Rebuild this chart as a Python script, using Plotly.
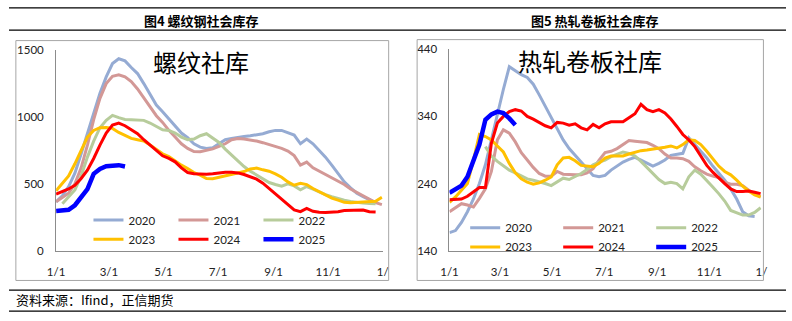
import plotly.graph_objects as go

# ---------------- data ----------------
days = list(range(0, 365, 7))  # weekly day offsets from Jan 1
N = None

rebar_2020 = [366, 410, 480, 580, 725, 880, 1030, 1177, 1300, 1400, 1436, 1420, 1370, 1325, 1250, 1170, 1090, 1040,
              985, 935, 880, 845, 800, 775, 765, 770, 800, 830, 840, 850, 855, 860, 868, 875, 890, 900, 900, 885,
              865, 800, 835, 800, 750, 700, 640, 580, 515, 470, 430, 405, 380, 360, N]
rebar_2021 = [366, 395, 430, 500, 620, 790, 980, 1140, 1250, 1305, 1316, 1300, 1265, 1210, 1145, 1080, 1010, 960,
              900, 850, 800, 765, 742, 740, 750, 762, 780, 800, 830, 840, 836, 830, 820, 808, 795, 782, 765, 745,
              711, 640, 663, 620, 595, 570, 545, 520, 495, 462, 435, 410, 385, 360, 345]
rebar_2022 = [N, 352, 400, 455, 560, 700, 820, 920, 975, 1012, 995, 982, 980, 980, 975, 955, 930, 905,
              900, 880, 850, 830, 835, 860, 875, 845, 810, 760, 715, 670, 630, 595, 565, 535, 510, 495, 483, 500,
              485, 455, 480, 460, 437, 420, 405, 390, 378, 368, 360, 356, 354, 352, N]
rebar_2023 = [448, 500, 560, 650, 750, 850, 900, 920, 922, 915, 885, 860, 840, 830, 820, 790, 760, 725,
              705, 670, 640, 615, 585, 565, 540, 538, 548, 560, 568, 580, 592, 612, 618, 605, 595, 575, 550, 515,
              490, 505, 495, 465, 440, 415, 393, 378, 362, 358, 360, 363, 365, 370, 400]
rebar_2024 = [423, 440, 462, 490, 540, 603, 690, 790, 880, 940, 955, 935, 905, 875, 830, 790, 745, 710,
              690, 665, 620, 585, 575, 572, 572, 575, 582, 586, 586, 582, 570, 555, 535, 505, 465, 420, 380, 345,
              305, 292, 316, 295, 287, 285, 287, 292, 300, 302, 308, 305, 292, 290, N]
rebar_2025 = [297, 298, 306, 340, 400, 460, 575, 612, 632, 640, 640, 630]

hrc_2020 = [167, 170, 182, 198, 217, 240, 268, 305, 345, 380, 414, 408, 402, 398, 388, 372, 355, 338,
            320, 305, 292, 282, 272, 262, 252, 250, 252, 260, 266, 272, 276, 279, 275, 270, 266, 270, 275, 282,
            284, 285, 308, 298, 289, 278, 266, 256, 245, 232, 217, 198, 192, 191, N]
hrc_2021 = [198, 204, 210, 208, 205, 218, 232, 258, 305, 320, 315, 302, 286, 275, 264, 255, 251, 251,
            258, 254, 253, 253, 253, 256, 262, 275, 286, 288, 292, 298, 304, 303, 302, 301, 297, 292, 284, 278,
            278, 277, 273, 265, 259, 254, 251, 249, 242, 239, 239, 237, 230, 225, 220]
hrc_2022 = [N, N, N, N, N, N, 295, 281, 273, 266, 260, 256, 252, 247, 245, 243, 240, 237,
            243, 248, 246, 250, 255, 261, 268, 272, 275, 280, 284, 287, 285, 281, 273, 264, 256, 246, 240, 242,
            240, 232, 250, 260, 254, 245, 235, 225, 214, 200, 196, 193, 193, 197, 204]
hrc_2023 = [212, 220, 230, 240, 275, 313, 310, 305, 296, 287, 270, 256, 247, 242, 239, 241, 245, 250,
            268, 278, 279, 274, 267, 266, 265, 270, 278, 281, 281, 281, 284, 287, 289, 290, 291, 293, 294, 296,
            293, 298, 305, 304, 298, 288, 277, 266, 258, 253, 245, 236, 229, 223, 220]
hrc_2024 = [216, 216, 217, 221, 228, 234, 234, 300, 330, 340, 347, 350, 348, 340, 336, 331, 326, 323,
            331, 330, 327, 329, 323, 320, 328, 323, 329, 332, 332, 332, 338, 344, 358, 350, 347, 350, 345, 336,
            325, 313, 305, 295, 281, 267, 257, 248, 240, 232, 228, 228, 229, 227, 225]
hrc_2025 = [226, 231, 237, 250, 272, 298, 335, 343, 347, 345, 337, 327]

years = ["2020", "2021", "2022", "2023", "2024", "2025"]
colors = ["#95ABD3", "#D39896", "#B7CC9B", "#FFC000", "#FF0000", "#0000FF"]
widths = [3, 3, 3, 3, 3, 4.5]

tick_days = [0, 59, 120, 181, 243, 304, 365]
tick_text = ["1/1", "3/1", "5/1", "7/1", "9/1", "11/1", "1/"]

W, H = 792, 321

def px_x(p):
    return p / W

def px_y(p):
    return 1 - p / H

fig = go.Figure()

rebar = [rebar_2020, rebar_2021, rebar_2022, rebar_2023, rebar_2024, rebar_2025]
hrc = [hrc_2020, hrc_2021, hrc_2022, hrc_2023, hrc_2024, hrc_2025]

for i, (yr, vals) in enumerate(zip(years, rebar)):
    fig.add_trace(go.Scatter(
        x=days[:len(vals)], y=vals, mode="lines", name=yr,
        line=dict(color=colors[i], width=widths[i]),
        xaxis="x", yaxis="y", legend="legend" if i < 3 else "legend2",
        connectgaps=False, hoverinfo="skip"))

for i, (yr, vals) in enumerate(zip(years, hrc)):
    fig.add_trace(go.Scatter(
        x=days[:len(vals)], y=vals, mode="lines", name=yr,
        line=dict(color=colors[i], width=widths[i]),
        xaxis="x2", yaxis="y2", legend="legend3" if i < 3 else "legend4",
        connectgaps=False, hoverinfo="skip"))

axis_font = dict(family="Lato, 'Noto Sans', sans-serif", size=11.5, color="#222")
xcommon = dict(tickvals=tick_days, ticktext=tick_text, showgrid=False, zeroline=False,
               showline=True, linecolor="#8C8C8C", linewidth=1, ticks="", tickfont=axis_font,
               ticklabelstandoff=10, fixedrange=True)
ycommon = dict(showgrid=False, zeroline=False, showline=True, linecolor="#8C8C8C", linewidth=1,
               ticks="", tickfont=axis_font, ticklabelstandoff=9, fixedrange=True)

legend_common = dict(orientation="h", bgcolor="rgba(0,0,0,0)", borderwidth=0,
                     font=dict(family="Lato, 'Noto Sans', sans-serif", size=11.5, color="#222"),
                     xanchor="left", yanchor="middle", entrywidthmode="pixels", tracegroupgap=0)

fig.update_layout(
    width=W, height=H,
    margin=dict(l=0, r=0, t=0, b=0),
    paper_bgcolor="white", plot_bgcolor="white",
    xaxis=dict(domain=[px_x(48), px_x(381)], range=[0, 365], anchor="y", **xcommon),
    yaxis=dict(domain=[px_y(254), px_y(45)], range=[0, 1500], tickvals=[0, 500, 1000, 1500],
               anchor="x", **ycommon),
    xaxis2=dict(domain=[px_x(449), px_x(767)], range=[0, 365], anchor="y2", **xcommon),
    yaxis2=dict(domain=[px_y(254), px_y(44)], range=[140, 440], tickvals=[140, 240, 340, 440],
                anchor="x2", **ycommon),
    legend=dict(x=px_x(81), y=px_y(222), entrywidth=40, **legend_common),
    legend2=dict(x=px_x(81), y=px_y(242), entrywidth=40, **legend_common),
    legend3=dict(x=px_x(465), y=px_y(230), entrywidth=48, **legend_common),
    legend4=dict(x=px_x(465), y=px_y(250), entrywidth=48, **legend_common),
    showlegend=True,
)

shapes = []
# horizontal rules
for yy in [1, 24, 295, 317]:
    shapes.append(dict(type="line", xref="paper", yref="paper", x0=0, x1=1, y0=px_y(yy), y1=px_y(yy),
                       line=dict(color="#000", width=1.2)))
# chart frames
shapes.append(dict(type="rect", xref="paper", yref="paper", x0=px_x(7), x1=px_x(387), y0=px_y(285), y1=px_y(35),
                   line=dict(color="#A6A6A6", width=1)))
shapes.append(dict(type="rect", xref="paper", yref="paper", x0=px_x(416), x1=px_x(769), y0=px_y(285), y1=px_y(34),
                   line=dict(color="#A6A6A6", width=1)))
fig.update_layout(shapes=shapes)

cjk = "'Noto Sans CJK SC', sans-serif"
annotations = [
    dict(text="<b>图4 螺纹钢社会库存</b>", x=px_x(196), y=px_y(14), font=dict(family=cjk, size=13, color="#000")),
    dict(text="<b>图5 热轧卷板社会库存</b>", x=px_x(597), y=px_y(14), font=dict(family=cjk, size=13, color="#000")),
    dict(text="螺纹社库", x=px_x(196), y=px_y(57), font=dict(family=cjk, size=24, color="#000")),
    dict(text="热轧卷板社库", x=px_x(592), y=px_y(56), font=dict(family=cjk, size=24, color="#000")),
    dict(text="资料来源：Ifind，正信期货", x=px_x(5), y=px_y(305), xanchor="left",
         font=dict(family=cjk, size=13, color="#000")),
]
for a in annotations:
    a.setdefault("xanchor", "center")
    a.update(xref="paper", yref="paper", yanchor="middle", showarrow=False)
fig.update_layout(annotations=annotations)

fig.write_html("out.html")
